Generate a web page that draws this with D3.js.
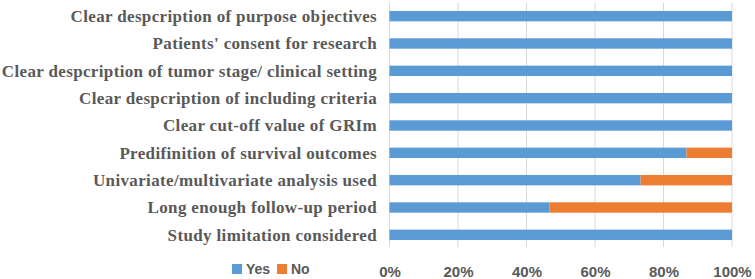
<!DOCTYPE html>
<html><head><meta charset="utf-8">
<script src="https://cdn.jsdelivr.net/npm/d3@7"></script>
<style>body{margin:0;background:#fff}svg{display:block}</style>
</head><body>
<script>
const categories = [
  "Clear despcription of purpose objectives",
  "Patients' consent for research",
  "Clear despcription of tumor stage/ clinical setting",
  "Clear despcription of including criteria",
  "Clear cut-off value of GRIm",
  "Predifinition of survival outcomes",
  "Univariate/multivariate analysis used",
  "Long enough follow-up period",
  "Study limitation considered"
];
const yesValues = [100, 100, 100, 100, 100, 86.7, 73.3, 46.7, 100];
const noValues  = [0, 0, 0, 0, 0, 13.3, 26.7, 53.3, 0];
const tickValues = [0, 20, 40, 60, 80, 100];
const seriesNames = ["Yes", "No"];
const colors = ["#5B9BD5", "#ED7D31"];

const W = 755, H = 279;
const svg = d3.select("body").append("svg").attr("width", W).attr("height", H);
const x = d3.scaleLinear().domain([0, 100]).range([389.5, 732]);
const y = d3.scaleBand().domain(categories).range([2.5, 248.5]).paddingInner(0.62).paddingOuter(0.31);

// gridlines
svg.append("g").selectAll("line").data(tickValues).join("line")
  .attr("x1", d => x(d)).attr("x2", d => x(d))
  .attr("y1", 3).attr("y2", 247)
  .attr("stroke", "#d9d9d9").attr("stroke-width", 1);

const stacked = categories.map((c, i) => ({c, yes: yesValues[i], no: noValues[i]}));
const g = svg.append("g");
g.selectAll("rect.yes").data(stacked).join("rect").attr("class", "yes")
  .attr("x", x(0)).attr("y", d => y(d.c))
  .attr("width", d => x(d.yes) - x(0)).attr("height", y.bandwidth())
  .attr("fill", colors[0]);
g.selectAll("rect.no").data(stacked.filter(d => d.no > 0)).join("rect").attr("class", "no")
  .attr("x", d => x(d.yes)).attr("y", d => y(d.c))
  .attr("width", d => x(d.yes + d.no) - x(d.yes)).attr("height", y.bandwidth())
  .attr("fill", colors[1]);

// category labels
svg.append("g").selectAll("text").data(categories).join("text")
  .attr("x", 377).attr("y", d => y(d) + y.bandwidth() / 2)
  .attr("dy", "0.35em").attr("text-anchor", "end")
  .attr("font-family", "'Liberation Serif', 'Times New Roman', serif")
  .attr("font-weight", "bold").attr("font-size", 17)
  .attr("letter-spacing", "0.35px")
  .attr("fill", "#595959").text(d => d);

// x axis tick labels
const xAxis = d3.axisBottom(x).tickValues(tickValues).tickFormat(d => d + "%").tickSize(0).tickPadding(0);
const ax = svg.append("g").attr("transform", "translate(0,277)").call(xAxis);
ax.select(".domain").remove();
ax.selectAll("text").attr("font-family", "'Liberation Sans', Arial, sans-serif")
  .attr("font-weight", "bold").attr("font-size", 15).attr("fill", "#595959")
  .attr("y", 0).attr("dy", 0);

// legend
const lg = svg.append("g");
const legendX = [232, 277];
seriesNames.forEach((n, i) => {
  lg.append("rect").attr("x", legendX[i]).attr("y", 264).attr("width", 10).attr("height", 10).attr("fill", colors[i]);
  lg.append("text").attr("x", legendX[i] + 14).attr("y", 274)
    .attr("font-family", "'Liberation Sans', Arial, sans-serif").attr("font-weight", "bold")
    .attr("font-size", 14).attr("fill", "#595959").text(n);
});
</script>
</body></html>
